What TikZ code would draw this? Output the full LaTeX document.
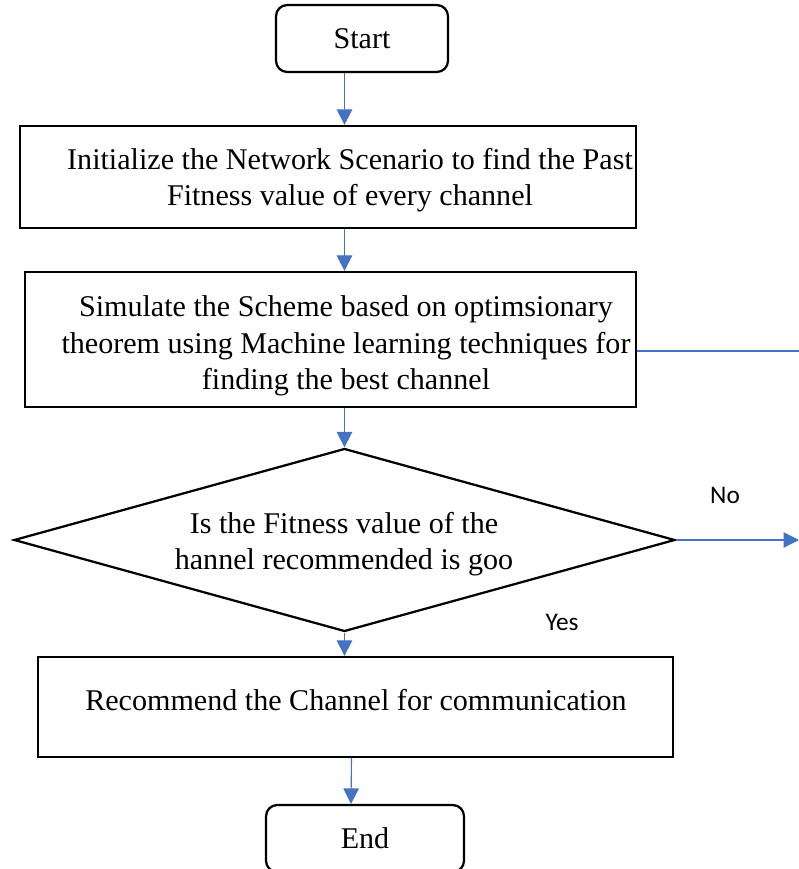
\documentclass[tikz,border=0pt]{standalone}
\usepackage{fontspec}
\setmainfont{Liberation Serif}
\newfontfamily\nofont{Carlito}
\usetikzlibrary{positioning,calc,shapes.geometric,arrows.meta}
\definecolor{LinkBlue}{RGB}{68,114,196}

\begin{document}
\begin{tikzpicture}[
		box/.style={draw, line width=1.6pt, align=center, inner sep=0pt, font=\fontsize{21.4}{26}\selectfont},
		txt/.style={align=center, inner sep=0pt, font=\fontsize{21.4}{26}\selectfont},
		term/.style={box, rounded corners=8pt, minimum width=4.3cm, minimum height=1.675cm},
		decide/.style={box, diamond, line width=1.6pt},
		link/.style={draw=LinkBlue, line width=0.8pt},
		arr/.style={link, -{Triangle[width=11pt,length=11pt]}},
		tag/.style={font=\nofont\fontsize{18}{22}\selectfont}
		]
		\useasboundingbox (0,0) rectangle (19.975,-21.725);
		
		% ===== nodes =====
		\node[term] (start) at (9.05,-0.9625) {Start};
		\node[box, minimum width=15.4cm, minimum height=2.55cm] (init) at (8.2,-4.425) {};
		\node[txt] (inittext) at (8.75,-4.5)
		{Initialize the Network Scenario to find the Past\\Fitness value of every channel};
		\node[box, minimum width=15.275cm, minimum height=3.375cm] (sim) at (8.2625,-8.4875) {};
		\node[txt] (simtext) at (8.65,-8.65)
		{Simulate the Scheme based on optimsionary\\theorem using Machine learning techniques for\\finding the best channel};
		\node[decide, minimum width=16.525cm, minimum height=4.575cm] (fit) at (8.6125,-13.5) {};
		\node[txt] (fittext) at (8.6,-13.6)
		{Is the Fitness value of the\\hannel recommended is goo};
		\node[box, minimum width=15.875cm, minimum height=2.5cm] (rec) at (8.8875,-17.675) {};
		\node[txt] (rectext) at (8.9,-17.5) {Recommend the Channel for communication};
		\node[term, minimum width=4.95cm] (end) at (9.125,-20.9625) {End};
		
		% ===== labels =====
		\node[tag] (no) at (18.125,-12.375) {No};
		\node[tag] (yes) at (14.05,-15.55) {Yes};
		
		% ===== connectors =====
		\coordinate (rt) at (19.975,-8.775);
		\coordinate (out) at (19.975,-13.5);
		\draw[arr] (start.south -| fit.north) -- (init.north -| fit.north);
		\draw[arr] (init.south -| fit.north) -- (sim.north -| fit.north);
		\draw[arr] (sim.south -| fit.north) -- (fit.north);
		\draw[link] (sim.east |- rt) -- (rt);
		\draw[arr] (fit.east) -- (out);
		\draw[arr] (fit.south) -- (rec.north -| fit.south);
		\draw[arr] ($(rec.south)+(-0.1,0)$) -- ($(end.north)+(-0.35,0)$);
		
	\end{tikzpicture}
\end{document}
